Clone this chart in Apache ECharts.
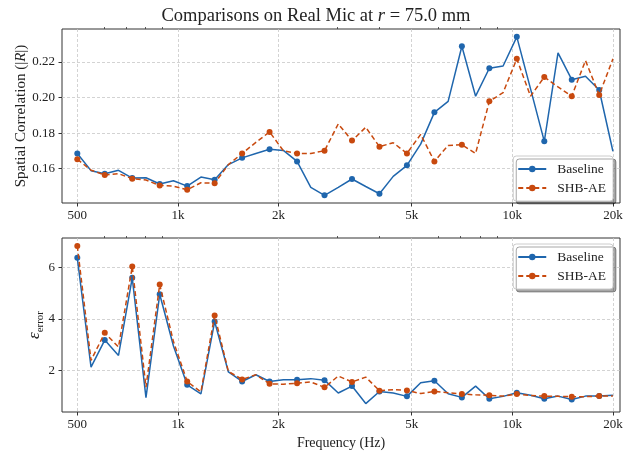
<!DOCTYPE html>
<html>
<head>
<meta charset="utf-8">
<script src="https://cdn.jsdelivr.net/npm/echarts@6/dist/echarts.min.js"></script>
<style>
  html, body { margin: 0; padding: 0; background: #fff; }
  #chart { width: 632px; height: 451px; }
</style>
</head>
<body>
<div id="chart"></div>
<script>
  // frequency points (Hz)
  const freqs = [
    500, 549.6, 604.1, 664.1, 730.0, 802.4, 882.0, 969.5, 1065.7, 1171.4,
    1287.6, 1415.4, 1555.8, 1710.2, 1879.9, 2066.4, 2271.4, 2496.7, 2744.4, 3016.7,
    3316.0, 3645.0, 4006.6, 4404.1, 4841.0, 5321.3, 5849.2, 6429.5, 7067.4, 7768.5,
    8539.2, 9386.4, 10317.6, 11341.2, 12466.4, 13703.2, 15062.7, 16557.1, 18199.7, 20000,
  ];

  // spatial correlation (top panel)
  const baselineCorr = [
    0.1686, 0.1589, 0.1572, 0.1591, 0.1547, 0.1549, 0.1514, 0.1532, 0.1502, 0.1553,
    0.1538, 0.1623, 0.1661, 0.1686, 0.1709, 0.1703, 0.1641, 0.1495, 0.1450, 0.1495,
    0.1542, 0.1500, 0.1459, 0.1557, 0.1619, 0.1738, 0.1917, 0.1979, 0.2289, 0.2008,
    0.2165, 0.2178, 0.2342, 0.2049, 0.1754, 0.2252, 0.2101, 0.2120, 0.2043, 0.1698,
  ];
  const shbCorr = [
    0.1653, 0.1592, 0.1564, 0.1572, 0.1544, 0.1536, 0.1506, 0.1502, 0.1482, 0.1521,
    0.1518, 0.1623, 0.1686, 0.1748, 0.1807, 0.1701, 0.1686, 0.1686, 0.1701, 0.1852,
    0.1758, 0.1833, 0.1724, 0.1746, 0.1686, 0.1793, 0.1641, 0.1731, 0.1735, 0.1686,
    0.1979, 0.2028, 0.2218, 0.2008, 0.2116, 0.2060, 0.2008, 0.2208, 0.2015, 0.2218,
  ];

  // error (bottom panel)
  const baselineErr = [
    6.38, 2.13, 3.18, 2.58, 5.60, 0.94, 4.96, 2.95, 1.44, 1.09,
    3.90, 1.94, 1.57, 1.83, 1.57, 1.64, 1.64, 1.68, 1.62, 1.12,
    1.39, 0.71, 1.18, 1.12, 0.99, 1.52, 1.60, 1.09, 0.95, 1.39,
    0.90, 0.99, 1.13, 1.03, 0.90, 1.00, 0.87, 1.00, 1.00, 1.03,
  ];
  const shbErr = [
    6.84, 2.39, 3.46, 2.91, 6.04, 1.35, 5.34, 3.12, 1.57, 1.16,
    4.14, 1.96, 1.65, 1.83, 1.48, 1.46, 1.50, 1.55, 1.34, 1.78,
    1.55, 1.74, 1.21, 1.25, 1.22, 1.10, 1.18, 1.13, 1.08, 1.05,
    1.03, 1.00, 1.08, 1.02, 1.00, 0.99, 0.98, 0.98, 1.00, 1.00,
  ];

  const majorTicks = [500, 1000, 2000, 5000, 10000, 20000];
  const minorTicks = [600, 700, 800, 900, 3000, 4000, 6000, 7000, 8000, 9000];
  const corrTicks = [0.16, 0.18, 0.2, 0.22];
  const errTicks = [2, 4, 6];

  const BLUE = "#1f66ad";
  const RED = "#c8490e";
  const FONT = "Liberation Serif";
  const gridLine = { show: true, lineStyle: { color: "#c8c8c8", type: [3, 2], width: 0.8 } };

  const fmtFreq = (v) => (v >= 1000 ? Math.round(v / 1000) + "k" : String(Math.round(v)));

  function majorX(gridIndex, withName) {
    return {
      type: "log",
      logBase: 10,
      gridIndex,
      min: 450,
      max: 21000,
      axisLine: { show: false },
      axisTick: { show: true, length: 3.5, customValues: majorTicks, lineStyle: { color: "#333" } },
      axisLabel: {
        customValues: majorTicks,
        formatter: fmtFreq,
        margin: 6,
        fontFamily: FONT,
        fontSize: 13,
        color: "#222",
      },
      splitLine: gridLine,
      name: withName ? "Frequency (Hz)" : "",
      nameLocation: "middle",
      nameGap: 24,
      nameTextStyle: { fontFamily: FONT, fontSize: 14, color: "#222" },
    };
  }

  function minorX(gridIndex) {
    return {
      type: "log",
      logBase: 10,
      gridIndex,
      min: 450,
      max: 21000,
      axisLine: { show: false },
      axisTick: { show: true, length: 2, customValues: minorTicks, lineStyle: { color: "#333", width: 0.8 } },
      axisLabel: { show: false },
      splitLine: { show: false },
    };
  }

  function makeY(gridIndex, min, max, ticks, digits, name, nameGap, rich) {
    return {
      type: "value",
      gridIndex,
      min,
      max,
      axisLine: { show: false },
      axisTick: { show: true, length: 3.5, customValues: ticks, lineStyle: { color: "#333" } },
      axisLabel: {
        customValues: ticks,
        formatter: (v) => v.toFixed(digits),
        margin: 7,
        fontFamily: FONT,
        fontSize: 13,
        color: "#222",
      },
      splitLine: gridLine,
      name,
      nameLocation: "middle",
      nameRotate: 90,
      nameGap,
      nameMoveOverlap: false,
      nameTextStyle: { fontFamily: FONT, fontSize: 15, color: "#222", rich },
    };
  }

  function makeSeries(name, xs, ys, color, dashed, axisIndex) {
    return {
      name,
      type: "line",
      xAxisIndex: axisIndex,
      yAxisIndex: axisIndex,
      data: xs.map((f, i) => [f, ys[i]]),
      symbol: "circle",
      symbolSize: (v, p) => (p.dataIndex % 2 === 0 ? 6 : 0),
      lineStyle: { color, width: 1.5, type: dashed ? [5, 3] : "solid" },
      itemStyle: { color },
      z: dashed ? 3 : 2,
    };
  }

  function makeLegend(top) {
    return {
      data: ["Baseline", "SHB-AE"],
      orient: "vertical",
      right: 19,
      top,
      itemWidth: 28,
      itemHeight: 8,
      itemGap: 5,
      padding: [6, 7, 6, 4],
      backgroundColor: "#fff",
      borderColor: "#cccccc",
      borderWidth: 1,
      borderRadius: 3,
      shadowColor: "rgba(0,0,0,0.35)",
      shadowOffsetX: 3,
      shadowOffsetY: 3,
      shadowBlur: 0,
      textStyle: { fontFamily: FONT, fontSize: 13.5, color: "#222", padding: [0, 0, 0, 6] },
    };
  }

  const chart = echarts.init(document.getElementById("chart"), null, { renderer: "canvas" });
  chart.setOption({
    animation: false,
    backgroundColor: "#fff",
    title: {
      text: "Comparisons on Real Mic at {i|r} = 75.0 mm",
      left: "center",
      top: 2,
      textStyle: {
        fontFamily: FONT,
        fontSize: 18.5,
        fontWeight: "normal",
        color: "#222",
        rich: { i: { fontFamily: FONT, fontSize: 18.5, fontStyle: "italic", color: "#222" } },
      },
    },
    legend: [makeLegend(156), makeLegend(244)],
    grid: [
      { left: 62, right: 12, top: 29, height: 174, show: true, borderColor: "#333", borderWidth: 1 },
      { left: 62, right: 12, top: 238, height: 174, show: true, borderColor: "#333", borderWidth: 1 },
    ],
    xAxis: [majorX(0, false), majorX(1, true), minorX(0), minorX(1)],
    yAxis: [
      makeY(0, 0.1407, 0.2386, corrTicks, 2, "Spatial Correlation (|{i|R}|)", 33,
        { i: { fontFamily: FONT, fontSize: 15, fontStyle: "italic", color: "#222" } }),
      makeY(1, 0.382, 7.15, errTicks, 0, "{e|ε}{s|error}", 16,
        {
          e: { fontFamily: FONT, fontSize: 17, fontStyle: "italic", color: "#222", lineHeight: 16 },
          s: { fontFamily: FONT, fontSize: 11, color: "#222", verticalAlign: "bottom", lineHeight: 22 },
        }),
    ],
    series: [
      makeSeries("Baseline", freqs, baselineCorr, BLUE, false, 0),
      makeSeries("SHB-AE", freqs, shbCorr, RED, true, 0),
      makeSeries("Baseline", freqs, baselineErr, BLUE, false, 1),
      makeSeries("SHB-AE", freqs, shbErr, RED, true, 1),
    ],
  });
</script>
</body>
</html>
